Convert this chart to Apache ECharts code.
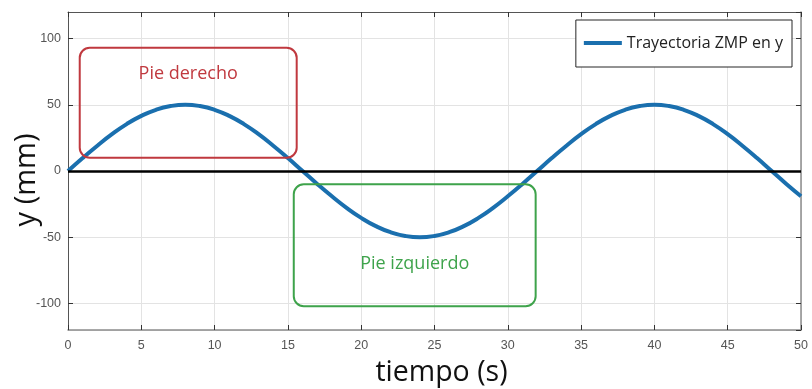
<!DOCTYPE html>
<html>
<head>
<meta charset="utf-8">
<script src="https://cdn.jsdelivr.net/npm/echarts@6/dist/echarts.min.js"></script>
<style>
  html, body { margin: 0; padding: 0; background: #fff; }
  #main { width: 812px; height: 389px; }
</style>
</head>
<body>
<div id="main"></div>
<script>
// tiempo (s) y trayectoria ZMP en y (mm)
var tiempo = [0,1,2,3,4,5,6,7,8,9,10,11,12,13,14,15,16,17,18,19,20,21,22,23,24,25,
  26,27,28,29,30,31,32,33,34,35,36,37,38,39,40,41,42,43,44,45,46,47,48,49,50];
var zmpY = [0,9.8,19.1,27.8,35.4,41.6,46.2,49.0,50,49.0,46.2,41.6,35.4,27.8,19.1,9.8,
  0,-9.8,-19.1,-27.8,-35.4,-41.6,-46.2,-49.0,-50,-49.0,-46.2,-41.6,-35.4,-27.8,-19.1,-9.8,
  0,9.8,19.1,27.8,35.4,41.6,46.2,49.0,50,49.0,46.2,41.6,35.4,27.8,19.1,9.8,0,-9.8,-19.1];

// cajas de apoyo: [x0, x1, yTop, yBottom] en unidades de datos
var pieDerecho = [0.8, 15.6, 93, 10];
var pieIzquierdo = [15.4, 31.9, -10, -102];

var chart = echarts.init(document.getElementById('main'));
var font = 'Liberation Sans';
var titleFont = 'Open Sans';

var option = {
  animation: false,
  grid: { left: 68, right: 11, top: 12, bottom: 59, outerBoundsMode: 'none', containLabel: false },
  legend: {
    right: 20, top: 20,
    data: ['Trayectoria ZMP en y'],
    icon: 'rect',
    backgroundColor: '#fff',
    borderColor: '#262626',
    borderWidth: 1,
    padding: [15, 9, 16, 8],
    itemWidth: 38, itemHeight: 4, itemGap: 6,
    textStyle: { fontFamily: titleFont, fontSize: 16, color: '#222' }
  },
  xAxis: [{
    type: 'value', min: 0, max: 50, interval: 5,
    name: 'tiempo (s)', nameLocation: 'middle', nameGap: 28, nameMoveOverlap: false,
    nameTextStyle: { fontFamily: titleFont, fontSize: 28.5, color: '#111', padding: [0, 0, 0, 14] },
    axisLine: { show: true, onZero: false, lineStyle: { color: '#8c8c8c', width: 1.5 } },
    axisTick: { show: true, inside: true, length: 5, lineStyle: { color: '#333' } },
    axisLabel: { fontFamily: font, fontSize: 12.5, color: '#555', margin: 9 },
    splitLine: { show: true, lineStyle: { color: '#e3e3e3' } }
  }, {
    type: 'value', min: 0, max: 50, interval: 5, position: 'top',
    axisLine: { show: true, onZero: false, lineStyle: { color: '#555' } },
    axisTick: { show: true, inside: true, length: 5, lineStyle: { color: '#333' } },
    axisLabel: { show: false },
    splitLine: { show: false }
  }],
  yAxis: [{
    type: 'value', min: -120, max: 120, splitNumber: 5,
    name: 'y (mm)', nameLocation: 'middle', nameGap: 27, nameMoveOverlap: false,
    nameTextStyle: { fontFamily: titleFont, fontSize: 29, color: '#111', padding: [0, 18, 0, 0] },
    axisLine: { show: true, onZero: false, lineStyle: { color: '#555' } },
    axisTick: { show: true, inside: true, length: 5, lineStyle: { color: '#333' } },
    axisLabel: { fontFamily: font, fontSize: 12.5, color: '#555', margin: 7, showMinLabel: false, showMaxLabel: false },
    splitLine: { show: true, lineStyle: { color: '#e3e3e3' } }
  }, {
    type: 'value', min: -120, max: 120, splitNumber: 5, position: 'right',
    axisLine: { show: true, onZero: false, lineStyle: { color: '#8c8c8c', width: 1.5 } },
    axisTick: { show: true, inside: true, length: 5, lineStyle: { color: '#333' } },
    axisLabel: { show: false },
    splitLine: { show: false }
  }],
  series: [{
    name: 'Trayectoria ZMP en y',
    type: 'line',
    data: tiempo.map(function (t, i) { return [t, zmpY[i]]; }),
    smooth: true,
    showSymbol: false,
    symbol: 'none',
    lineStyle: { color: '#1a6fae', width: 4 },
    itemStyle: { color: '#1a6fae' },
    markLine: {
      silent: true, symbol: 'none', label: { show: false },
      lineStyle: { color: '#000', width: 2.5, type: 'solid' },
      data: [{ yAxis: 0 }]
    },
    z: 3
  }]
};
chart.setOption(option);

// dibujar las cajas de apoyo a partir de la escala del gráfico
function caja(b, color, texto, textoY) {
  var p0 = chart.convertToPixel({ gridIndex: 0 }, [b[0], b[2]]);
  var p1 = chart.convertToPixel({ gridIndex: 0 }, [b[1], b[3]]);
  var pt = chart.convertToPixel({ gridIndex: 0 }, [(b[0] + b[1]) / 2, textoY]);
  return [{
    type: 'rect', z: 10,
    shape: { x: p0[0], y: p0[1], width: p1[0] - p0[0], height: p1[1] - p0[1], r: 10 },
    style: { fill: 'none', stroke: color, lineWidth: 2 }
  }, {
    type: 'text', z: 10, x: pt[0], y: pt[1],
    style: { text: texto, fill: color, fontFamily: titleFont, fontSize: 18, align: 'center', verticalAlign: 'middle' }
  }];
}
chart.setOption({
  graphic: caja(pieDerecho, '#c0393f', 'Pie derecho', 73)
    .concat(caja(pieIzquierdo, '#3ea34b', 'Pie izquierdo', -70))
});
</script>
</body>
</html>
